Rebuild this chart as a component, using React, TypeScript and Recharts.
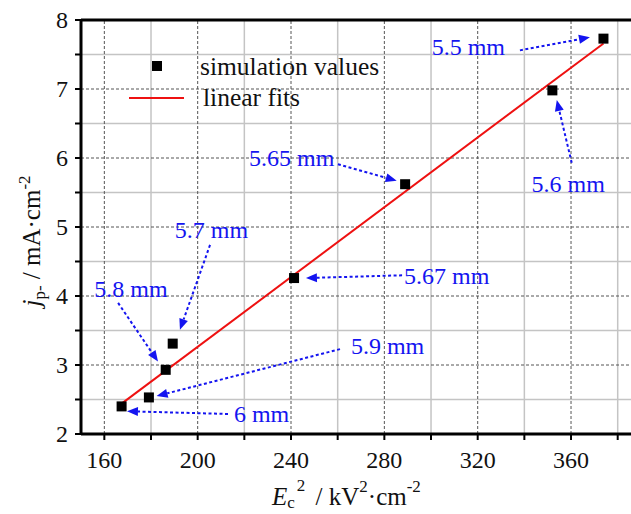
import React from "react"
import {
  ComposedChart,
  Scatter,
  Line,
  XAxis,
  YAxis,
  ReferenceLine,
  ReferenceDot,
  Legend,
} from "recharts"

// simulated points: electrode gap label, Ec^2 (kV^2/cm^2), jp- (mA/cm^2)
const gapLabels = ["6 mm", "5.9 mm", "5.8 mm", "5.7 mm", "5.67 mm", "5.65 mm", "5.6 mm", "5.5 mm"]
const ec2Values = [167.4, 179.1, 186.3, 189.3, 241.3, 288.9, 352.0, 373.9]
const jpValues = [2.4, 2.53, 2.93, 3.31, 4.26, 5.62, 6.98, 7.73]

// linear fit end points
const fitX = [167.4, 373.9]
const fitY = [2.44, 7.66]

// axis ticks
const xTicks = [160, 180, 200, 220, 240, 260, 280, 300, 320, 340, 360, 380]
const xMajor = [160, 200, 240, 280, 320, 360]
const yTicks = [2, 2.5, 3, 3.5, 4, 4.5, 5, 5.5, 6, 6.5, 7, 7.5, 8]
const yMajor = [2, 3, 4, 5, 6, 7, 8]

// annotation label position and arrow (start -> tip), in data units, same order as gapLabels
const labelX = [227.4, 281.4, 171.4, 205.9, 306.7, 240.3, 358.8, 316.0]
const labelY = [2.29, 3.27, 4.1, 4.96, 4.29, 6.0, 5.63, 7.61]
const arrowFromX = [213.0, 261.0, 165.9, 205.3, 287.6, 260.1, 360.3, 338.1]
const arrowFromY = [2.29, 3.23, 3.9, 4.74, 4.3, 5.91, 5.93, 7.56]
const arrowToX = [169.7, 182.4, 183.0, 192.4, 246.4, 285.3, 353.9, 368.1]
const arrowToY = [2.33, 2.55, 3.05, 3.51, 4.26, 5.67, 6.84, 7.75]

const points = ec2Values.map((x, i) => ({ x, y: jpValues[i] }))
const fitData = fitX.map((x, i) => ({ x, y: fitY[i] }))

const FONT = "Liberation Serif, Tinos, Times New Roman, DejaVu Serif, serif"
const BLUE = "#1414f0"
const txt = { fontFamily: FONT }

function XTick(props: any) {
  const { x, y, payload } = props
  if (!xMajor.includes(payload.value)) return null
  return (
    <text x={x} y={y + 26} textAnchor="middle" fontSize={24} style={txt} fill="#111">
      {payload.value}
    </text>
  )
}

function YTick(props: any) {
  const { x, y, payload } = props
  if (!yMajor.includes(payload.value)) return null
  return (
    <text x={x - 5} y={y + 8} textAnchor="end" fontSize={24} style={txt} fill="#111">
      {payload.value}
    </text>
  )
}

function Square(props: any) {
  const { cx, cy } = props
  return <rect x={cx - 5} y={cy - 5} width={10} height={10} fill="#000" />
}

function Arrow(props: any) {
  const { x1, y1, x2, y2 } = props
  const ang = Math.atan2(y2 - y1, x2 - x1)
  const len = 11
  const w = 4.5
  const bx = x2 - len * Math.cos(ang)
  const by = y2 - len * Math.sin(ang)
  const px = -Math.sin(ang) * w
  const py = Math.cos(ang) * w
  return (
    <g>
      <line x1={x1} y1={y1} x2={bx} y2={by} stroke={BLUE} strokeWidth={2} strokeDasharray="3 2.5" />
      <polygon points={`${x2},${y2} ${bx + px},${by + py} ${bx - px},${by - py}`} fill={BLUE} />
    </g>
  )
}

function LegendBox() {
  return (
    <svg width={300} height={80} style={{ display: "block" }}>
      <rect x={32} y={16} width={10} height={10} fill="#000" />
      <text x={80} y={30} fontSize={25.5} style={txt} fill="#111">simulation values</text>
      <line x1={9} y1={53} x2={64} y2={53} stroke="#ee1111" strokeWidth={2} />
      <text x={83} y={61} fontSize={25.5} style={txt} fill="#111">linear fits</text>
    </svg>
  )
}

function XTitle(props: any) {
  return (
    <text x={272} y={505} fontSize={25} style={txt} fill="#111">
      <tspan fontStyle="italic">E</tspan>
      <tspan fontSize={17} dy={3}>c</tspan>
      <tspan fontSize={17} dy={-17} dx={2}>2</tspan>
      <tspan dy={14} dx={4}>{" / kV"}</tspan>
      <tspan fontSize={17} dy={-13}>2</tspan>
      <tspan dy={13}>{"·cm"}</tspan>
      <tspan fontSize={17} dy={-13}>-2</tspan>
    </text>
  )
}

function YTitle(props: any) {
  const cx = 40
  const cy = 241
  return (
    <text
      x={cx}
      y={cy}
      transform={`rotate(-90, ${cx}, ${cy})`}
      textAnchor="middle"
      fontSize={25}
      style={txt}
      fill="#111"
    >
      <tspan fontStyle="italic">j</tspan>
      <tspan fontSize={17} dy={5}>p-</tspan>
      <tspan dy={-5}>{" / mA·cm"}</tspan>
      <tspan fontSize={17} dy={-10}>-2</tspan>
    </text>
  )
}

export default function App() {
  const minorX = xTicks.filter((t) => !xMajor.includes(t))
  const minorY = yTicks.filter((t) => !yMajor.includes(t))
  return (
    <div style={{ position: "absolute", left: 0, top: 0, background: "#fff", fontFamily: FONT }}>
      <ComposedChart width={631} height={514} margin={{ top: 20, right: 0, bottom: 0, left: 0 }}>
        <XAxis
          dataKey="x"
          type="number"
          domain={[150, 385.7]}
          ticks={xTicks}
          allowDataOverflow
          height={80}
          tickSize={6}
          tick={<XTick />}
          axisLine={{ stroke: "#000", strokeWidth: 3 }}
          tickLine={{ stroke: "#000", strokeWidth: 2 }}
          label={{ content: <XTitle /> }}
        />
        <YAxis
          dataKey="y"
          type="number"
          domain={[2, 8]}
          ticks={yTicks}
          width={81}
          tickSize={6}
          tick={<YTick />}
          axisLine={{ stroke: "#000", strokeWidth: 3 }}
          tickLine={{ stroke: "#000", strokeWidth: 2 }}
          label={{ content: <YTitle /> }}
        />
        {minorX.map((v) => (
          <ReferenceLine key={`mx${v}`} x={v} stroke="#c4c4c4" strokeWidth={1.5} />
        ))}
        {minorY.map((v) => (
          <ReferenceLine key={`my${v}`} y={v} stroke="#c4c4c4" strokeWidth={1.5} />
        ))}
        {xMajor.map((v) => (
          <ReferenceLine key={`Mx${v}`} x={v} stroke="#555" strokeWidth={1} strokeDasharray="3 2" />
        ))}
        {yMajor.slice(1, -1).map((v) => (
          <ReferenceLine key={`My${v}`} y={v} stroke="#555" strokeWidth={1} strokeDasharray="3 2" />
        ))}
        <ReferenceLine y={8} stroke="#000" strokeWidth={3} />
        <Legend
          verticalAlign="middle"
          align="center"
          layout="horizontal"
          content={() => <LegendBox />}
          wrapperStyle={{ left: 120, top: 45, width: 300, height: 80 }}
        />
        <Line
          data={fitData}
          dataKey="y"
          name="linear fits"
          stroke="#ee1111"
          strokeWidth={2}
          dot={false}
          isAnimationActive={false}
        />
        <Scatter
          data={points}
          dataKey="y"
          name="simulation values"
          shape={<Square />}
          isAnimationActive={false}
        />
        {gapLabels.map((g, i) => (
          <ReferenceLine
            key={`a${i}`}
            segment={[
              { x: arrowFromX[i], y: arrowFromY[i] },
              { x: arrowToX[i], y: arrowToY[i] },
            ]}
            shape={(p: any) => <Arrow {...p} />}
          />
        ))}
        {gapLabels.map((g, i) => (
          <ReferenceDot
            key={`l${i}`}
            x={labelX[i]}
            y={labelY[i]}
            r={0}
            shape={(p: any) => (
              <text
                x={p.cx}
                y={p.cy + 8}
                textAnchor="middle"
                fontSize={24}
                style={txt}
                fill={BLUE}
              >
                {g}
              </text>
            )}
          />
        ))}
      </ComposedChart>
    </div>
  )
}
